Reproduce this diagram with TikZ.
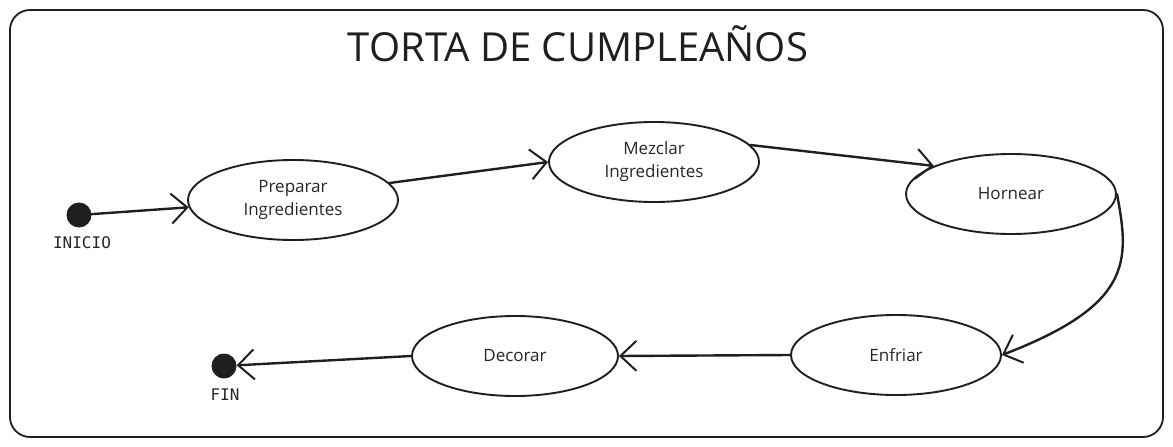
\documentclass[tikz,border=0pt]{standalone}
\usepackage{fontspec}
\setmainfont{Open Sans}
\newfontfamily\labelmono{DejaVu Sans Mono}
\usetikzlibrary{shapes.geometric,arrows.meta}
\begin{document}
\begin{tikzpicture}[x=1pt,y=-1pt,
  state/.style={draw=black!88,line width=1.9pt,ellipse,minimum width=210pt,minimum height=80pt,inner sep=0pt,align=center,font=\fontsize{17}{23}\selectfont,text=black!85},
  dot/.style={circle,fill=black!88,minimum size=25pt,inner sep=0pt},
  lbl/.style={font=\labelmono\fontsize{16}{18}\selectfont,text=black!85},
  flow/.style={draw=black!88,line width=2.4pt,line cap=round,-{Straight Barb[length=16pt,width=30pt,line width=2pt]}}]
\useasboundingbox (0,0) rectangle (1173,447);
\draw[line width=1.8pt,rounded corners=20pt,draw=black!88] (10,10) rectangle (1163,437);
\node[font=\fontsize{40}{44}\selectfont,text=black!88] (title) at (578,44) {TORTA DE CUMPLEAÑOS};
\node[dot] (ini) at (79,215) {};
\node[lbl] (inil) at (82,243) {INICIO};
\node[state] (prep) at (293,200) {Preparar\\Ingredientes};
\node[state] (mez) at (654,162) {Mezclar\\Ingredientes};
\node[state] (horn) at (1011,194) {Hornear};
\node[state] (enf) at (896,355) {Enfriar};
\node[state,minimum width=206pt] (dec) at (515,356) {Decorar};
\node[dot] (fin) at (224,366) {};
\node[lbl] (finl) at (225,395) {FIN};
\draw[flow] (ini) -- (prep);
\draw[flow] (prep.10) -- (mez.west);
\draw[flow] (mez.10) -- (horn.160);
\draw[flow] (horn.east) .. controls (1130,262) and (1132,305) .. (enf.east);
\draw[flow] (enf.west) -- (dec.east);
\draw[flow] (dec.west) -- (fin);
\end{tikzpicture}
\end{document}
